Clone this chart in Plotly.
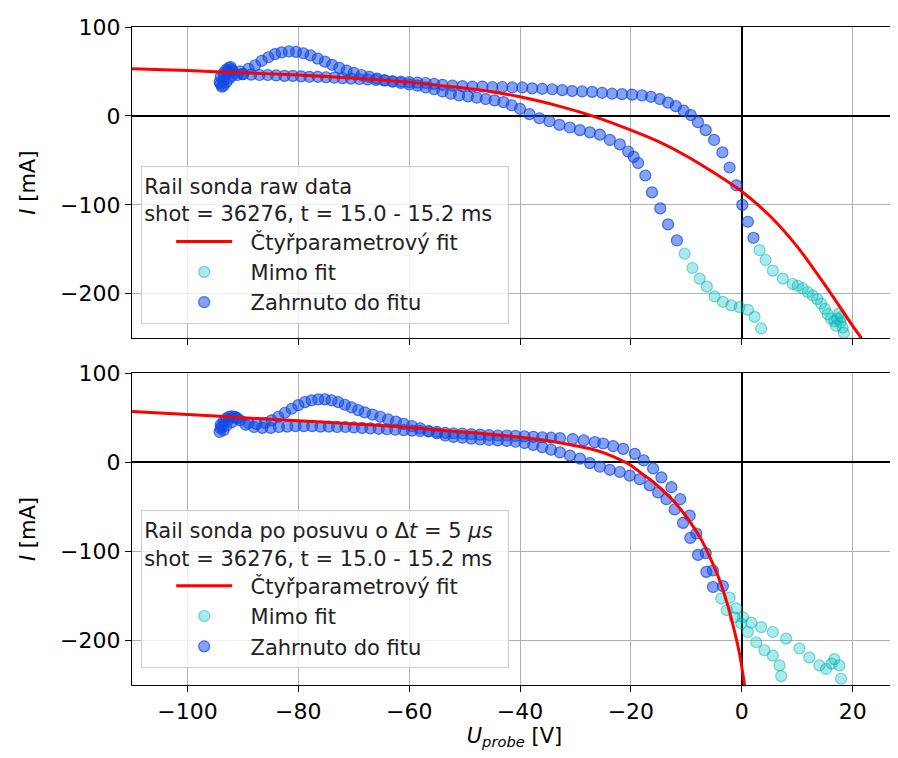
import plotly.graph_objects as go

# ---------------- top panel (raw data) ----------------
top_in_u = [-94, -93.5, -94, -93.5, -93, -92.5, -92, -91.5, -92, -92.5, -93, -93.5, -91, -90,
            -94.2, -93.8, -92.8, -92.2, -93.2, -91.8,
            -90, -88.5, -87, -85.5, -84, -82.5, -81, -79.5, -78, -76.5, -75, -73.5, -72, -70.5,
            -69, -67.5, -66, -64.5, -63, -61.5, -60, -58.5, -57, -55.5, -54, -52.2, -50.4, -48.6,
            -46.8, -45, -43.2, -41.4, -39.6, -37.8, -36, -34.2, -32.4, -30.6, -28.8, -27, -25.2,
            -23.4, -21.6, -19.8, -18, -16.4, -14.8, -13.3, -11.9, -10.5, -9.2, -7.9, -6.5, -5,
            -3.5, -2.2, -1, 0.1, 1.1, 2.1,
            -90.5, -89, -87.8, -86.6, -85.4, -84.2, -83, -81.7, -80.4, -79.1, -77.8, -76.5, -75.2,
            -73.9, -72.6, -71.3, -70, -68.6, -67.2, -65.8, -64.4, -63, -61.5, -60, -58.5, -57,
            -55.5, -54, -52.5, -51, -49.4, -47.8, -46.2, -44.6, -43, -41.5, -40, -38.3, -36.5,
            -34.7, -32.9, -31, -29.2, -27.4, -25.6, -23.8, -22, -20.5, -19.5, -18.7, -17.4, -16.2,
            -14.7, -13.3, -11.7]
top_in_i = [36, 40, 44, 48, 52, 54, 52, 48, 45, 42, 38, 34, 46, 47,
            38, 33, 50, 55, 46, 50,
            47, 46.5, 46, 46, 45.5, 45, 45, 44.5, 44, 44, 43.5, 43, 42.5, 42,
            41.5, 41, 40.5, 40, 39, 38.5, 38, 37.5, 37, 36, 35, 34, 33.5, 33,
            33, 32.5, 32.5, 32, 32, 31, 30.5, 30, 29, 28, 27.5, 27, 26,
            25, 24.5, 24, 23, 21.5, 19, 15, 11, 6, 1, -7, -16, -27,
            -41, -58, -78, -100, -119, -137,
            50, 53, 57, 62, 66, 69.5, 71.5, 72.5, 72, 70.5, 68, 64.5, 61,
            57.5, 54, 51, 48.5, 46, 44, 42, 40, 38.5, 37, 35.5, 34, 32,
            30, 27.5, 25, 23, 22, 20.5, 19, 17.5, 15.5, 12, 8, 2, -2.6,
            -6, -10, -13, -16, -18.5, -21, -27, -32, -40, -46, -53, -67, -86,
            -104, -122, -140]

top_out_u = [3.2, 4.3, 5.6, 7.4, 9.2, 10.1, 11, 11.9, 12.8, 13.6, 14.3, 15, 15.5, 16.1, 16.7,
             17.2, 17.6, 18, 17.8, 18.2, 18.4, 17,
             -10.3, -8.9, -7.6, -6.3, -4.9, -3.4, -1.9, -0.4, 1.1, 2.3, 3.5]
top_out_i = [-151, -162, -174, -183, -189, -191, -194, -198, -202, -206, -211, -217, -223, -228, -231,
             -228, -222, -226, -232, -238, -244, -236,
             -155, -171, -183, -192, -203, -209, -213, -215, -218, -226, -239]

top_fit_u = [-110, -100, -90, -80, -70, -60, -52.6, -46, -40, -33, -27, -20, -15, -10, -5,
             0, 5, 10, 15, 20, 21.6]
top_fit_i = [53, 51, 48.5, 46, 42.5, 38, 33, 28, 21.5, 11, 0, -16, -29, -45, -64,
             -85, -112, -147, -190, -236, -250]

# ---------------- bottom panel (shifted by 5 us) ----------------
bot_in_u = [-94, -94, -93.5, -93, -92.5, -92, -91.5, -91, -90.5, -92, -93, -93.5,
            -94.2, -93.8, -92.5, -91.2,
            -89.5, -88, -86.5, -85, -83.5, -82, -80.5, -79, -77.5, -76, -74.5, -73, -71.5,
            -70, -68.5, -67, -65.5, -64, -62.5, -61, -59.5, -58, -56.5, -55, -53.5, -52,
            -50.4, -48.8, -47.2, -45.6, -44, -42.4, -40.8, -39.2, -37.6, -36, -34.4, -32.8,
            -30.5, -28.5, -26.5, -25, -23.2, -21.4, -19.3, -17.7, -16, -14.5, -12.7, -11.1,
            -9.4, -8.2, -6.5, -5.2, -3.4,
            -89, -87.5, -86, -84.8, -83.6, -82.4, -81.2, -80, -78.8, -77.6, -76.4, -75.2, -74,
            -72.8, -71.6, -70.4, -69.2, -68, -66.6, -65.2, -63.8, -62.4, -61, -59.5, -58, -56.5,
            -55, -53.5, -52, -50.4, -48.8, -47.2, -45.6, -44, -42.4, -40.8, -39.2, -37.6, -36,
            -34.4, -32.8, -31, -29.2, -27.4, -25.6, -23.8, -22, -20.2, -18.4, -16.6, -15.1,
            -13.6, -12.1, -10.6, -9.3, -7.9, -6.4, -5.2]
bot_in_i = [38, 42, 46, 49, 51, 51.5, 51, 49, 47, 45, 41, 36,
            34, 40, 48, 50,
            42, 39.5, 38.5, 38.5, 39.5, 40, 40.5, 40.5, 40.5, 40, 40, 39.5, 39.5,
            39, 38.5, 38, 37.5, 37, 36.5, 36, 35.5, 35, 34.5, 34, 33, 32.5,
            32, 31.5, 31, 30.5, 30, 30, 29.5, 29, 28.5, 28, 27.5, 27,
            26, 24.5, 22.5, 21, 18, 15, 9.4, 2, -7, -17, -28, -41.5,
            -60, -80, -102, -121.5, -139,
            44, 43, 44, 47, 51, 55.5, 60, 64, 67.5, 69.5, 70.5, 70.5, 69.5,
            67.5, 64.5, 61.5, 58.5, 56, 53.5, 51, 48, 45.5, 43, 40.5, 38, 35,
            32.5, 30, 28.5, 27.5, 26.5, 25.5, 25, 24.5, 24, 23, 21.5, 19.5, 17,
            14, 11, 7.5, 4, -1, -5, -8.5, -11, -15, -19, -26, -34,
            -41.5, -53, -68, -85, -104, -123, -140]

bot_out_u = [-2.2, -1, 0.2, 1.7, 3.5, 5.6, 8, 10.4, 12.2, 14, 15.2, 16.2, 16.7, 17.6, 17.9,
             -3.7, -2.7, -1.3, -0.1, 1.1, 2.6, 4.1, 5.6, 6.8, 7.1]
bot_out_i = [-152, -164, -174, -180, -185, -190.5, -198, -209, -219, -228, -232, -226, -221, -228, -243,
             -153, -166, -174, -181, -190.5, -202, -211, -217, -228, -240]

bot_fit_u = [-110, -100, -90, -80, -70, -60, -54.5, -47, -40, -35, -30.5, -27, -24.4, -22,
             -20.1, -18, -16, -14, -12.4, -10.5, -8.8, -7.2, -5.8, -4.2, -2.8, -1.5, -0.4, 0.5]
bot_fit_i = [57, 53.5, 50, 46.5, 43, 39, 36, 32.5, 28, 24, 19, 14.5, 9.4, 3,
             -3, -13, -22, -33, -43, -57, -72, -88, -106, -129, -155, -185, -215, -250]

# ---------------- styles ----------------
BLUE_FILL = "rgba(20,75,230,0.52)"
BLUE_LINE = "rgba(20,75,230,0.75)"
CYAN_FILL = "rgba(0,190,190,0.33)"
CYAN_LINE = "rgba(0,175,175,0.5)"
FONT = "DejaVu Sans"
NB = "\u00a0\u00a0"

fig = go.Figure()


def add_panel(xref, yref, legend, in_u, in_i, out_u, out_i, fit_u, fit_i):
    fig.add_trace(go.Scatter(
        x=in_u, y=in_i, mode="markers", name=NB + "Zahrnuto do fitu",
        xaxis=xref, yaxis=yref, legend=legend, legendrank=3,
        marker=dict(size=11, color=BLUE_FILL, line=dict(color=BLUE_LINE, width=1.2))))
    fig.add_trace(go.Scatter(
        x=out_u, y=out_i, mode="markers", name=NB + "Mimo fit",
        xaxis=xref, yaxis=yref, legend=legend, legendrank=2,
        marker=dict(size=11, color=CYAN_FILL, line=dict(color=CYAN_LINE, width=1.2))))
    fig.add_trace(go.Scatter(
        x=fit_u, y=fit_i, mode="lines", name=NB + "Čtyřparametrový fit",
        xaxis=xref, yaxis=yref, legend=legend, legendrank=1,
        line=dict(color="#ff0000", width=3, shape="spline", smoothing=0.6)))


add_panel("x", "y", "legend", top_in_u, top_in_i, top_out_u, top_out_i, top_fit_u, top_fit_i)
add_panel("x2", "y2", "legend2", bot_in_u, bot_in_i, bot_out_u, bot_out_i, bot_fit_u, bot_fit_i)

axis_common = dict(
    showline=True, mirror=True, linecolor="black", linewidth=1.3,
    ticks="outside", ticklen=6, tickwidth=1.3, tickcolor="black",
    showgrid=True, gridcolor="#b0b0b0", gridwidth=1,
    zeroline=True, zerolinecolor="black", zerolinewidth=2.2,
    tickfont=dict(family=FONT, size=22, color="black"),
    automargin=False,
)

legend_common = dict(
    x=0.012, xanchor="left", yanchor="top",
    bgcolor="rgba(255,255,255,0.8)", bordercolor="#cccccc", borderwidth=1,
    font=dict(family=FONT, size=21, color="#222222"),
    itemwidth=56, indentation=29, tracegroupgap=0,
)

fig.update_layout(
    width=890, height=742,
    margin=dict(l=124, r=1, t=19, b=65),
    plot_bgcolor="white", paper_bgcolor="white",
    font=dict(family=FONT, size=21, color="black"),
    xaxis=dict(axis_common, domain=[0, 1], anchor="y", range=[-110, 28], dtick=20,
               showticklabels=False, matches="x2"),
    yaxis=dict(axis_common, domain=[0.527, 1], anchor="x", range=[-250, 100], dtick=100,
               title=dict(text="<i>I</i> [mA]", font=dict(family=FONT, size=21), standoff=18)),
    xaxis2=dict(axis_common, domain=[0, 1], anchor="y2", range=[-110, 28], dtick=20,
                title=dict(text="<i>U</i><sub><i>probe</i></sub> [V]",
                           font=dict(family=FONT, size=21), standoff=8)),
    yaxis2=dict(axis_common, domain=[0, 0.474], anchor="x2", range=[-250, 100], dtick=100,
                title=dict(text="<i>I</i> [mA]", font=dict(family=FONT, size=21), standoff=18)),
    legend=dict(legend_common, y=0.789,
                title=dict(text="Rail sonda raw data<br>shot = 36276, t = 15.0 - 15.2 ms\u00a0\u00a0",
                           font=dict(family=FONT, size=21, color="#222222"))),
    legend2=dict(legend_common, y=0.266,
                 title=dict(text="Rail sonda po posuvu o Δ<i>t</i> = 5 <i>μs</i><br>shot = 36276, t = 15.0 - 15.2 ms\u00a0\u00a0",
                            font=dict(family=FONT, size=21, color="#222222"))),
    showlegend=True,
)

fig.write_html("out.html")
